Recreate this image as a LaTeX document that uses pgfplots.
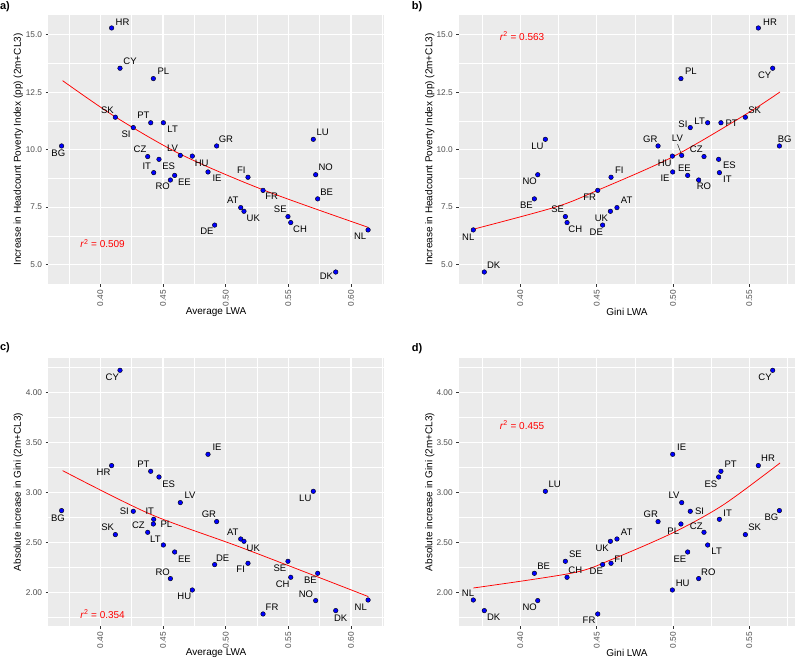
\documentclass[border=0pt]{standalone}
\usepackage{fontspec}
\setmainfont{Liberation Sans}
\usepackage{pgfplots}
\usepackage{pgfplotstable}
\pgfplotsset{compat=1.18}
\definecolor{bgc}{HTML}{EBEBEB}
\definecolor{tickl}{HTML}{4D4D4D}
\definecolor{tickc}{HTML}{333333}
\definecolor{dotc}{HTML}{0000FF}
\definecolor{fitc}{HTML}{FF0000}

% country, average LWA, Gini LWA, increase in HPI (pp), absolute increase in Gini
\pgfplotstableread{
cc avg    gini   hpi   dg
HR 0.4090 0.5559 15.29 3.267
CY 0.4157 0.5653 13.54 4.220
PL 0.4423 0.5052 13.09 2.683
SK 0.4120 0.5474 11.41 2.577
SI 0.4263 0.5113 10.96 2.810
PT 0.4402 0.5314 11.17 3.210
LT 0.4503 0.5227 11.17 2.473
BG 0.3691 0.5697 10.16 2.817
GR 0.4928 0.4902 10.16 2.707
LU 0.5699 0.4164 10.45 3.010
CZ 0.4378 0.5203 9.70  2.600
ES 0.4468 0.5299 9.58  3.153
LV 0.4638 0.5057 9.75  2.897
HU 0.4734 0.4996 9.72  2.023
IT 0.4426 0.5304 9.00  2.730
EE 0.4593 0.5096 8.88  2.403
RO 0.4559 0.5168 8.68  2.137
IE 0.4859 0.4998 9.03  3.380
FI 0.5178 0.4594 8.80  2.290
NO 0.5718 0.4114 8.91  1.917
FR 0.5298 0.4507 8.23  1.783
BE 0.5734 0.4092 7.86  2.190
AT 0.5120 0.4633 7.48  2.533
UK 0.5146 0.4590 7.32  2.510
SE 0.5497 0.4295 7.09  2.310
CH 0.5519 0.4306 6.83  2.150
DE 0.4912 0.4539 6.72  2.277
NL 0.6136 0.3692 6.51  1.923
DK 0.5878 0.3764 4.68  1.817
}\data

\pgfplotsset{
  gg/.style={
    scale only axis, anchor=south west, clip=false,
    axis background/.style={fill=bgc},
    axis line style={draw=none},
    grid=both,
    major grid style={white, line width=1.1pt},
    minor grid style={white, line width=0.55pt},
    tick style={tickc, line width=0.5pt},
    tick align=outside, tick pos=left,
    major tick length=2.75pt, minor tick length=0pt,
    ticklabel style={font=\fontsize{8.3}{9}\selectfont, text=tickl},
    xticklabel style={rotate=90, anchor=east},
    label style={font=\fontsize{10}{12}\selectfont, text=black},
  },
  pts/.style={only marks, mark=*, mark size=2.3pt, mark options={draw=none, fill=dotc}},
  fitl/.style={fitc, line width=0.75pt, smooth, no markers},
}
\tikzset{
  lbl/.style={font=\fontsize{9.5}{10}\selectfont, text=black, inner sep=0pt, anchor=center},
  rlab/.style={text=fitc, font=\fontsize{10}{11}\selectfont, anchor=center, inner sep=0pt},
}
\newcommand{\lab}[5]{\node[lbl, xshift=#4pt, yshift=#5pt] at (axis cs:#1,#2) {#3};}

\begin{document}
\begin{tikzpicture}
\useasboundingbox (0,0) rectangle (796pt,660pt);

% ---------- a ----------
\begin{axis}[gg, at={(48.3pt,376pt)}, width=335.7pt, height=269pt,
  xmin=0.3585, xmax=0.6263, ymin=4.159, ymax=15.855,
  xtick={0.40,0.45,0.50,0.55,0.60}, xticklabels={0.40,0.45,0.50,0.55,0.60},
  minor xtick={0.375,0.425,0.475,0.525,0.575,0.625},
  ytick={5,7.5,10,12.5,15}, yticklabels={5.0,7.5,10.0,12.5,15.0},
  minor ytick={6.25,8.75,11.25,13.75},
  xlabel={Average LWA}, ylabel={Increase in Headcount Poverty Index (pp) (2m+CL3)},
  every axis y label/.style={at={(axis description cs:-0.0894,0.5)}, rotate=90, anchor=center},
  every axis x label/.style={at={(axis description cs:0.5,-0.104)}, anchor=center}]
\addplot[fitl] coordinates {(0.3699,13.00) (0.4117,11.435) (0.4636,9.81) (0.5301,8.247) (0.6138,6.62)};
\addplot[pts] table[x=avg, y=hpi]{\data};
\lab{0.4090}{15.29}{HR}{11}{5.3}
\lab{0.4157}{13.54}{CY}{10}{7.3}
\lab{0.4423}{13.09}{PL}{10}{7}
\lab{0.4120}{11.41}{SK}{-8}{7}
\lab{0.4263}{10.96}{SI}{-7.3}{-6.3}
\lab{0.4402}{11.17}{PT}{-7.3}{7.3}
\lab{0.4503}{11.17}{LT}{9.3}{-6.3}
\lab{0.3691}{10.16}{BG}{-3.3}{-7.3}
\lab{0.4928}{10.16}{GR}{9.3}{7}
\lab{0.5699}{10.45}{LU}{9.3}{7}
\lab{0.4378}{9.70}{CZ}{-7.7}{7}
\lab{0.4468}{9.58}{ES}{9.7}{-6.7}
\lab{0.4638}{9.75}{LV}{-7.7}{7.3}
\lab{0.4734}{9.72}{HU}{9.3}{-6.7}
\lab{0.4426}{9.00}{IT}{-7}{6.7}
\lab{0.4593}{8.88}{EE}{9.7}{-6.7}
\lab{0.4559}{8.68}{RO}{-7.7}{-6.7}
\lab{0.4859}{9.03}{IE}{9}{-6}
\lab{0.5178}{8.80}{FI}{-6.7}{6.7}
\lab{0.5718}{8.91}{NO}{10}{7.3}
\lab{0.5298}{8.23}{FR}{8.7}{-6.3}
\lab{0.5734}{7.86}{BE}{9}{7}
\lab{0.5120}{7.48}{AT}{-8}{7}
\lab{0.5146}{7.32}{UK}{9.3}{-6.7}
\lab{0.5497}{7.09}{SE}{-7.7}{7}
\lab{0.5519}{6.83}{CH}{9.3}{-6.7}
\lab{0.4912}{6.72}{DE}{-7.7}{-6.3}
\lab{0.6136}{6.51}{NL}{-8}{-6.7}
\lab{0.5878}{4.68}{DK}{-9.3}{-4.7}
\node[rlab] at (axis cs:0.4018,5.91) {\textit{r}\textsuperscript{2} = 0.509};
\end{axis}

% ---------- b ----------
\begin{axis}[gg, at={(459pt,376pt)}, width=336pt, height=269pt,
  xmin=0.35983, xmax=0.57991, ymin=4.159, ymax=15.855,
  xtick={0.40,0.45,0.50,0.55}, xticklabels={0.40,0.45,0.50,0.55},
  minor xtick={0.375,0.425,0.475,0.525,0.575},
  ytick={5,7.5,10,12.5,15}, yticklabels={5.0,7.5,10.0,12.5,15.0},
  minor ytick={6.25,8.75,11.25,13.75},
  xlabel={Gini LWA}, ylabel={Increase in Headcount Poverty Index (pp) (2m+CL3)},
  every axis y label/.style={at={(axis description cs:-0.0872,0.5)}, rotate=90, anchor=center},
  every axis x label/.style={at={(axis description cs:0.5,-0.104)}, anchor=center}]
\addplot[fitl] coordinates {(0.3692,6.54) (0.4238,7.52) (0.4511,8.247) (0.5002,9.70) (0.5483,11.56) (0.5701,12.51)};
\draw[black, line width=0.4pt] (axis cs:0.5057,9.75) ++(-0.7pt,2.2pt) -- ++(-3.4pt,9pt);
\addplot[pts] table[x=gini, y=hpi]{\data};
\lab{0.5559}{15.29}{HR}{11.7}{5.3}
\lab{0.5653}{13.54}{CY}{-8}{-7}
\lab{0.5052}{13.09}{PL}{10}{7}
\lab{0.5474}{11.41}{SK}{9.3}{6.7}
\lab{0.5113}{10.96}{SI}{-7.3}{3.7}
\lab{0.5314}{11.17}{PT}{10.7}{0}
\lab{0.5227}{11.17}{LT}{-8}{1.3}
\lab{0.5697}{10.16}{BG}{5.3}{7}
\lab{0.4902}{10.16}{GR}{-7.7}{7}
\lab{0.4164}{10.45}{LU}{-8}{-6.7}
\lab{0.5203}{9.70}{CZ}{-7.7}{7}
\lab{0.5299}{9.58}{ES}{10.7}{-6.3}
\lab{0.5057}{9.75}{LV}{-4.3}{16.7}
\lab{0.4996}{9.72}{HU}{-7.7}{-7.3}
\lab{0.5304}{9.00}{IT}{8}{-6.7}
\lab{0.5096}{8.88}{EE}{-3.3}{7}
\lab{0.5168}{8.68}{RO}{5.3}{-6.7}
\lab{0.4998}{9.03}{IE}{-7.7}{-6}
\lab{0.4594}{8.80}{FI}{8.3}{6.7}
\lab{0.4114}{8.91}{NO}{-8}{-7}
\lab{0.4507}{8.23}{FR}{-8}{-6.7}
\lab{0.4092}{7.86}{BE}{-8}{-6.7}
\lab{0.4633}{7.48}{AT}{9.7}{7}
\lab{0.4590}{7.32}{UK}{-9}{-6.7}
\lab{0.4295}{7.09}{SE}{-7.7}{7}
\lab{0.4306}{6.83}{CH}{8.3}{-7}
\lab{0.4539}{6.72}{DE}{-6.3}{-6.7}
\lab{0.3692}{6.51}{NL}{-5}{-7}
\lab{0.3764}{4.68}{DK}{9.3}{6.7}
\node[rlab] at (axis cs:0.4011,14.94) {\textit{r}\textsuperscript{2} = 0.563};
\end{axis}

% ---------- c ----------
\begin{axis}[gg, at={(48.3pt,34pt)}, width=335.7pt, height=268pt,
  xmin=0.3585, xmax=0.6263, ymin=1.663, ymax=4.343,
  xtick={0.40,0.45,0.50,0.55,0.60}, xticklabels={0.40,0.45,0.50,0.55,0.60},
  minor xtick={0.375,0.425,0.475,0.525,0.575,0.625},
  ytick={2,2.5,3,3.5,4}, yticklabels={2.00,2.50,3.00,3.50,4.00},
  minor ytick={1.75,2.25,2.75,3.25,3.75,4.25},
  xlabel={Average LWA}, ylabel={Absolute increase in Gini (2m+CL3)},
  every axis y label/.style={at={(axis description cs:-0.0894,0.5)}, rotate=90, anchor=center},
  every axis x label/.style={at={(axis description cs:0.5,-0.102)}, anchor=center}]
\addplot[fitl] coordinates {(0.3699,3.217) (0.4396,2.783) (0.5141,2.44) (0.6138,1.957)};
\addplot[pts] table[x=avg, y=dg]{\data};
\lab{0.4090}{3.267}{HR}{-8}{-7}
\lab{0.4157}{4.220}{CY}{-7.7}{-7.3}
\lab{0.4423}{2.683}{PL}{13}{-0.3}
\lab{0.4120}{2.577}{SK}{-7.7}{7}
\lab{0.4263}{2.810}{SI}{-9}{0}
\lab{0.4402}{3.210}{PT}{-7.3}{7.3}
\lab{0.4503}{2.473}{LT}{-8}{6}
\lab{0.3691}{2.817}{BG}{-3.7}{-7.3}
\lab{0.4928}{2.707}{GR}{-7.7}{7.3}
\lab{0.5699}{3.010}{LU}{-8}{-7.3}
\lab{0.4378}{2.600}{CZ}{-9.3}{7}
\lab{0.4468}{3.153}{ES}{9.7}{-7}
\lab{0.4638}{2.897}{LV}{9.7}{7}
\lab{0.4734}{2.023}{HU}{-8}{-6.7}
\lab{0.4426}{2.730}{IT}{-4}{7.7}
\lab{0.4593}{2.403}{EE}{9.7}{-7}
\lab{0.4559}{2.137}{RO}{-7.7}{6.3}
\lab{0.4859}{3.380}{IE}{9}{6.7}
\lab{0.5178}{2.290}{FI}{-7.3}{-6}
\lab{0.5718}{1.917}{NO}{-9.7}{6.3}
\lab{0.5298}{1.783}{FR}{9}{6.7}
\lab{0.5734}{2.190}{BE}{-7.3}{-6.7}
\lab{0.5120}{2.533}{AT}{-8}{7}
\lab{0.5146}{2.510}{UK}{9.3}{-7.3}
\lab{0.5497}{2.310}{SE}{-8}{-7.3}
\lab{0.5519}{2.150}{CH}{-8}{-7}
\lab{0.4912}{2.277}{DE}{8}{6.7}
\lab{0.6136}{1.923}{NL}{-7.3}{-7.3}
\lab{0.5878}{1.817}{DK}{5}{-7.3}
\node[rlab] at (axis cs:0.4018,1.783) {\textit{r}\textsuperscript{2} = 0.354};
\end{axis}

% ---------- d ----------
\begin{axis}[gg, at={(459pt,34pt)}, width=336pt, height=268pt,
  xmin=0.35983, xmax=0.57991, ymin=1.663, ymax=4.343,
  xtick={0.40,0.45,0.50,0.55}, xticklabels={0.40,0.45,0.50,0.55},
  minor xtick={0.375,0.425,0.475,0.525,0.575},
  ytick={2,2.5,3,3.5,4}, yticklabels={2.00,2.50,3.00,3.50,4.00},
  minor ytick={1.75,2.25,2.75,3.25,3.75,4.25},
  xlabel={Gini LWA}, ylabel={Absolute increase in Gini (2m+CL3)},
  every axis y label/.style={at={(axis description cs:-0.0872,0.5)}, rotate=90, anchor=center},
  every axis x label/.style={at={(axis description cs:0.5,-0.102)}, anchor=center}]
\addplot[fitl] coordinates {(0.3692,2.043) (0.4347,2.195) (0.4609,2.335) (0.5002,2.597) (0.5330,2.875) (0.5701,3.293)};
\addplot[pts] table[x=gini, y=dg]{\data};
\lab{0.5559}{3.267}{HR}{9.7}{7}
\lab{0.5653}{4.220}{CY}{-7.7}{-7.3}
\lab{0.5052}{2.683}{PL}{-7.7}{-7.3}
\lab{0.5474}{2.577}{SK}{9.3}{7}
\lab{0.5113}{2.810}{SI}{9.3}{0}
\lab{0.5314}{3.210}{PT}{9.7}{7.3}
\lab{0.5227}{2.473}{LT}{9}{-6.3}
\lab{0.5697}{2.817}{BG}{-8}{-7}
\lab{0.4902}{2.707}{GR}{-7.3}{7.3}
\lab{0.4164}{3.010}{LU}{9.3}{7}
\lab{0.5203}{2.600}{CZ}{-7.7}{6}
\lab{0.5299}{3.153}{ES}{-7.7}{-7}
\lab{0.5057}{2.897}{LV}{-7.7}{7}
\lab{0.4996}{2.023}{HU}{10.3}{6.7}
\lab{0.5304}{2.730}{IT}{8.3}{6}
\lab{0.5096}{2.403}{EE}{-7.7}{-7}
\lab{0.5168}{2.137}{RO}{9.7}{6.3}
\lab{0.4998}{3.380}{IE}{9}{6.7}
\lab{0.4594}{2.290}{FI}{7.7}{4.3}
\lab{0.4114}{1.917}{NO}{-8}{-6.7}
\lab{0.4507}{1.783}{FR}{-8.7}{-6}
\lab{0.4092}{2.190}{BE}{9.3}{6.7}
\lab{0.4633}{2.533}{AT}{9.7}{7}
\lab{0.4590}{2.510}{UK}{-8.3}{-7.3}
\lab{0.4295}{2.310}{SE}{10}{6.7}
\lab{0.4306}{2.150}{CH}{8.3}{6.7}
\lab{0.4539}{2.277}{DE}{-6.3}{-6.7}
\lab{0.3692}{1.923}{NL}{-5.3}{7}
\lab{0.3764}{1.817}{DK}{9.3}{-6.7}
\node[rlab] at (axis cs:0.4011,3.673) {\textit{r}\textsuperscript{2} = 0.455};
\end{axis}

\node[font=\bfseries\fontsize{11}{12}\selectfont] at (5pt,653pt) {a)};
\node[font=\bfseries\fontsize{11}{12}\selectfont] at (417pt,653pt) {b)};
\node[font=\bfseries\fontsize{11}{12}\selectfont] at (5pt,312pt) {c)};
\node[font=\bfseries\fontsize{11}{12}\selectfont] at (417pt,311pt) {d)};
\end{tikzpicture}
\end{document}
